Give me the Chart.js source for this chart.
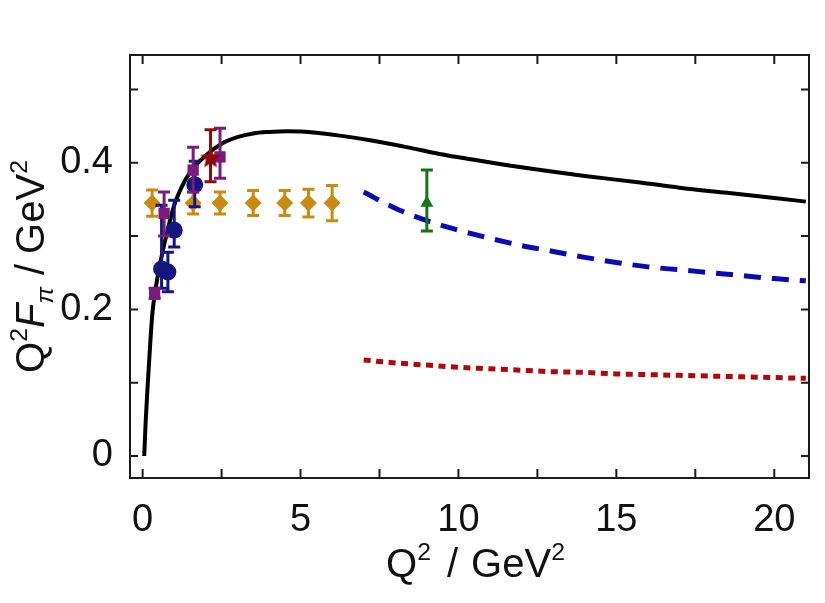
<!DOCTYPE html>
<html>
<head>
<meta charset="utf-8">
<script src="https://cdn.jsdelivr.net/npm/chart.js@4.4.1/dist/chart.umd.min.js"></script>
<style>
  html, body { margin: 0; padding: 0; background: #fff; }
  #wrap { width: 825px; height: 603px; }
</style>
</head>
<body>
<div id="wrap"><canvas id="c"></canvas></div>
<script>
// axis ticks
const X_TICKS = [0, 5, 10, 15, 20];
const X_MINOR = [2.5, 7.5, 12.5, 17.5];
const Y_TICKS = [0, 0.2, 0.4];
const Y_MINOR = [0.1, 0.3, 0.5];

// solid black model curve
const CURVE_Q2  = [0.05, 0.1, 0.17, 0.25, 0.31, 0.4, 0.6, 0.8, 1.0, 1.25, 1.5, 2.0, 2.5, 3.0, 3.5, 4.0, 4.6, 5.5, 6.25, 7.3, 8.4, 9.4, 10.5, 11.5, 12.6, 14, 15.75, 17, 18.5, 20, 21];
const CURVE_VAL = [0, 0.05, 0.104, 0.16, 0.195, 0.225, 0.272, 0.31, 0.342, 0.368, 0.387, 0.41, 0.426, 0.435, 0.44, 0.442, 0.443, 0.441, 0.437, 0.43, 0.421, 0.412, 0.404, 0.397, 0.39, 0.382, 0.373, 0.366, 0.359, 0.352, 0.347];

// dashed blue and dotted red curves
const TAIL_Q2   = [7, 8, 9, 10, 11, 12, 13, 14, 15, 16, 17, 18, 19, 20, 21];
const DASH_VAL  = [0.360, 0.338, 0.321, 0.308, 0.297, 0.287, 0.279, 0.271, 0.264, 0.258, 0.254, 0.250, 0.246, 0.242, 0.239];
const DOT_VAL   = [0.131, 0.127, 0.124, 0.121, 0.119, 0.117, 0.115, 0.114, 0.112, 0.111, 0.110, 0.109, 0.108, 0.107, 0.106];

// data points with error bars
const ORANGE_Q2  = [0.3, 1.6, 2.45, 3.5, 4.5, 5.25, 6.0];
const ORANGE_VAL = [0.345, 0.345, 0.345, 0.345, 0.345, 0.345, 0.345];
const ORANGE_ERR = [0.018, 0.015, 0.015, 0.017, 0.017, 0.019, 0.024];

const NAVY_Q2  = [0.6, 0.8, 1.0, 1.65];
const NAVY_VAL = [0.255, 0.251, 0.308, 0.370];
const NAVY_LO  = [0.229, 0.224, 0.285, 0.340];
const NAVY_HI  = [0.342, 0.278, 0.349, 0.402];

const PURPLE_Q2  = [0.38, 0.68, 1.6, 2.45];
const PURPLE_VAL = [0.222, 0.331, 0.390, 0.408];
const PURPLE_LO  = [0.215, 0.300, 0.360, 0.379];
const PURPLE_HI  = [0.229, 0.360, 0.421, 0.447];

const STAR_Q2  = [2.15];
const STAR_VAL = [0.406];
const STAR_LO  = [0.374];
const STAR_HI  = [0.445];

const GREEN_Q2  = [9.0];
const GREEN_VAL = [0.345];
const GREEN_LO  = [0.307];
const GREEN_HI  = [0.390];

const FONT = '"Liberation Sans", Arial, sans-serif';

function pts(xs, ys, lo, hi) {
  return xs.map((x, i) => ({ x, y: ys[i], lo: lo ? lo[i] : undefined, hi: hi ? hi[i] : undefined }));
}

function starImage(color, r) {
  const c = document.createElement('canvas');
  c.width = c.height = Math.ceil(r * 2 + 2);
  const g = c.getContext('2d');
  const cx = c.width / 2, cy = c.height / 2;
  g.beginPath();
  for (let k = 0; k < 10; k++) {
    const rr = k % 2 === 0 ? r : r * 0.45;
    const a = -Math.PI / 2 + k * Math.PI / 5;
    g.lineTo(cx + rr * Math.cos(a), cy + rr * Math.sin(a));
  }
  g.closePath();
  g.fillStyle = color;
  g.fill();
  return c;
}

function markerSet(label, data, color, style, radius, order) {
  return {
    label, data, order,
    showLine: false,
    pointStyle: style,
    pointRadius: radius,
    pointBackgroundColor: color,
    pointBorderColor: color,
    pointBorderWidth: 0,
    errColor: color,
  };
}

function lineSet(label, data, color, width, dash, order) {
  return {
    label, data, order,
    showLine: true,
    borderColor: color,
    borderWidth: width,
    borderDash: dash,
    pointRadius: 0,
    cubicInterpolationMode: 'monotone',
    fill: false,
  };
}

const errorBars = {
  id: 'errorBars',
  beforeDatasetDraw(chart, args) {
    const ds = chart.data.datasets[args.index];
    if (!ds.errColor) return;
    const y = chart.scales.y;
    const ctx = chart.ctx;
    ctx.save();
    ctx.strokeStyle = ds.errColor;
    ctx.lineWidth = 3;
    args.meta.data.forEach((el, i) => {
      const raw = ds.data[i];
      if (raw.lo === undefined) return;
      const top = y.getPixelForValue(raw.hi), bot = y.getPixelForValue(raw.lo);
      ctx.beginPath();
      ctx.moveTo(el.x, top); ctx.lineTo(el.x, bot);
      ctx.moveTo(el.x - 6, top); ctx.lineTo(el.x + 6, top);
      ctx.moveTo(el.x - 6, bot); ctx.lineTo(el.x + 6, bot);
      ctx.stroke();
    });
    ctx.restore();
  },
};

// text pieces: t = text, sup/sub/italic flags, gap = extra px after the piece
function drawRich(ctx, segs, size) {
  let w = 0;
  segs.forEach(s => {
    s.px = s.sup || s.sub ? size * 0.62 : size;
    ctx.font = (s.italic ? 'italic ' : '') + s.px + 'px ' + FONT;
    s.w = ctx.measureText(s.t).width + (s.gap || 0);
    w += s.w;
  });
  let x = -w / 2;
  segs.forEach(s => {
    ctx.font = (s.italic ? 'italic ' : '') + s.px + 'px ' + FONT;
    const dy = s.sup ? -size * 0.42 : s.sub ? size * 0.22 : 0;
    ctx.fillText(s.t, x, dy);
    x += s.w;
  });
}

const frame = {
  id: 'frame',
  afterDraw(chart) {
    const { ctx, chartArea: a, scales } = chart;
    ctx.save();
    ctx.strokeStyle = '#1a1a1a';
    ctx.lineWidth = 2;
    ctx.strokeRect(a.left, a.top, a.right - a.left, a.bottom - a.top);
    ctx.beginPath();
    X_TICKS.concat(X_MINOR).forEach(v => {
      const px = scales.x.getPixelForValue(v);
      ctx.moveTo(px, a.bottom); ctx.lineTo(px, a.bottom - 9);
      ctx.moveTo(px, a.top); ctx.lineTo(px, a.top + 9);
    });
    Y_TICKS.concat(Y_MINOR).forEach(v => {
      const py = scales.y.getPixelForValue(v);
      ctx.moveTo(a.left, py); ctx.lineTo(a.left + 8, py);
      ctx.moveTo(a.right, py); ctx.lineTo(a.right - 8, py);
    });
    ctx.stroke();

    ctx.fillStyle = '#111';
    ctx.textBaseline = 'alphabetic';
    ctx.textAlign = 'left';
    ctx.save();
    ctx.translate((a.left + a.right) / 2 + 6, 577);
    drawRich(ctx, [{ t: 'Q' }, { t: '2', sup: true, gap: 16 }, { t: '/', gap: 13 }, { t: 'GeV' }, { t: '2', sup: true }], 40);
    ctx.restore();
    ctx.save();
    ctx.translate(44, (a.top + a.bottom) / 2);
    ctx.rotate(-Math.PI / 2);
    drawRich(ctx, [{ t: 'Q' }, { t: '2', sup: true }, { t: 'F', italic: true }, { t: 'π', sub: true, italic: true, gap: 12 }, { t: '/', gap: 10 }, { t: 'GeV' }, { t: '2', sup: true }], 40);
    ctx.restore();
    ctx.restore();
  },
};

const tickFont = { family: FONT, size: 38 };

new Chart(document.getElementById('c'), {
  type: 'scatter',
  data: {
    datasets: [
      lineSet('model', pts(CURVE_Q2, CURVE_VAL), '#000000', 4, [], 10),
      lineSet('dashed', pts(TAIL_Q2, DASH_VAL), '#0a0ab4', 5, [17, 11], 9),
      lineSet('dotted', pts(TAIL_Q2, DOT_VAL), '#b50606', 5, [7, 5.5], 8),
      markerSet('orange', pts(ORANGE_Q2, ORANGE_VAL, ORANGE_VAL.map((v, i) => v - ORANGE_ERR[i]), ORANGE_VAL.map((v, i) => v + ORANGE_ERR[i])), '#c98a12', 'rectRot', 8.5, 7),
      markerSet('navy', pts(NAVY_Q2, NAVY_VAL, NAVY_LO, NAVY_HI), '#14157f', 'circle', 8.5, 6),
      markerSet('purple', pts(PURPLE_Q2, PURPLE_VAL, PURPLE_LO, PURPLE_HI), '#7b1b7b', 'rect', 8, 5),
      markerSet('star', pts(STAR_Q2, STAR_VAL, STAR_LO, STAR_HI), '#8c0d0d', starImage('#8c0d0d', 11), 10, 4),
      markerSet('green', pts(GREEN_Q2, GREEN_VAL, GREEN_LO, GREEN_HI), '#137513', 'triangle', 7.5, 3),
    ],
  },
  options: {
    responsive: true,
    maintainAspectRatio: false,
    animation: false,
    devicePixelRatio: 1,
    layout: { padding: { top: 55, right: 16, left: 0, bottom: 0 } },
    plugins: { legend: { display: false }, tooltip: { enabled: false } },
    scales: {
      x: {
        type: 'linear',
        min: -0.4, max: 21.1,
        afterBuildTicks: s => { s.ticks = X_TICKS.map(v => ({ value: v })); },
        afterFit: s => { s.height = 125; },
        ticks: { font: tickFont, color: '#111', padding: 12, maxRotation: 0, autoSkip: false, callback: v => String(v) },
        grid: { display: false },
        border: { display: false },
      },
      y: {
        type: 'linear',
        min: -0.03, max: 0.547,
        afterBuildTicks: s => { s.ticks = Y_TICKS.map(v => ({ value: v })); },
        afterFit: s => { s.width = 130; },
        ticks: { font: tickFont, color: '#111', padding: 9, autoSkip: false, callback: v => (v === 0 ? '0' : v.toFixed(1)) },
        grid: { display: false },
        border: { display: false },
      },
    },
  },
  plugins: [errorBars, frame],
});
</script>
</body>
</html>
